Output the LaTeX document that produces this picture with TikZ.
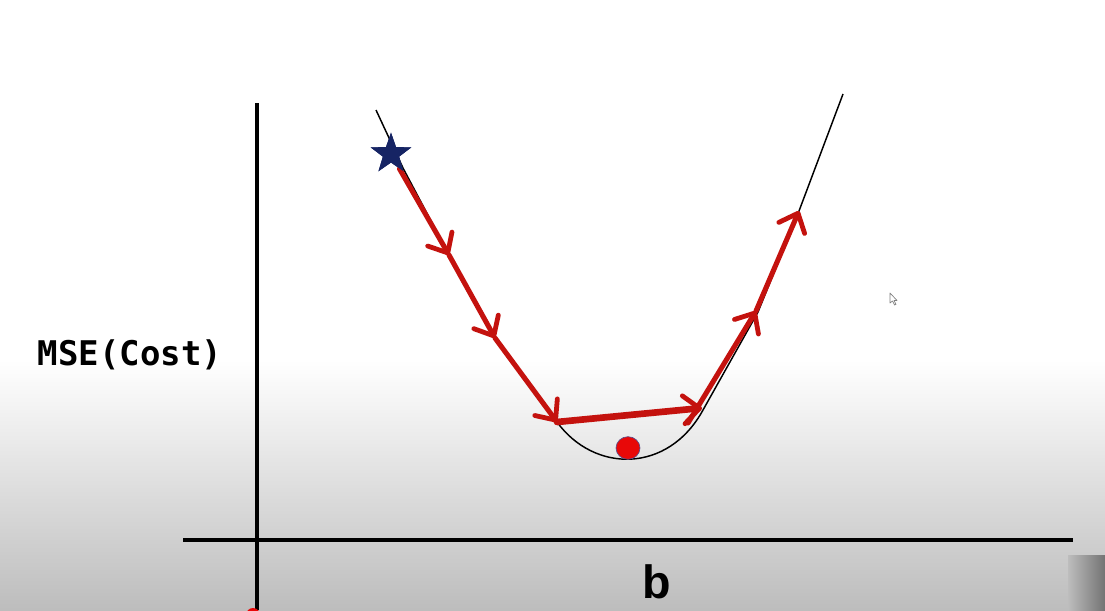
\documentclass[tikz,border=0pt]{standalone}
\usepackage{fontspec}
\setmainfont{Liberation Sans}
\newfontfamily\monobold{DejaVu Sans Mono}
\usetikzlibrary{arrows.meta,shapes.geometric}
\definecolor{gdred}{RGB}{196,18,14}
\definecolor{navystar}{RGB}{22,36,100}
\definecolor{dotred}{RGB}{232,8,8}
\definecolor{dotedge}{RGB}{90,80,140}
\tikzset{
  axisline/.style={line width=2.4pt, black},
  costcurve/.style={line width=1.1pt, black, line join=round},
  steparrow/.style={gdred, line width=3.8pt, line cap=round,
    -{Straight Barb[length=12pt, width=21pt, line width=3.6pt, round]}},
  bigsteparrow/.style={steparrow, line width=5pt},
  labeltext/.style={inner sep=0pt, anchor=base},
  gdstar/.style={star, star points=5, star point ratio=2.5, minimum size=32pt,
    inner sep=0pt, fill=navystar}
}
\begin{document}
\begin{tikzpicture}[x=0.75pt, y=-0.75pt]
\useasboundingbox (0,0) rectangle (1105,610);
\clip (0,0) rectangle (1105,610);
% background
\fill[white] (0,0) rectangle (1105,360);
\shade[top color=white, bottom color=white!93!black] (0,360) rectangle (1105,430);
\shade[top color=white!93!black, bottom color=white!74!black] (0,429.5) rectangle (1105,610);
\shade[left color=white!74!black, right color=black!55] (1068,555) rectangle (1105,610);
% axes
\coordinate (ytop) at (257,103);
\coordinate (ybot) at (257,610);
\coordinate (xl) at (183,540);
\coordinate (xr) at (1073,540);
\draw[axisline] (ytop) -- (ybot);
\draw[axisline] (xl) -- (xr);
\fill[dotred] (253,615) circle[radius=7];
% labels
\node[labeltext, font=\monobold\bfseries\fontsize{25.5}{27}\selectfont] (ylabel) at (130,365) {MSE(Cost)};
\node[labeltext, font=\bfseries\fontsize{35}{37}\selectfont] (xlabel) at (657,598) {b};
% step points
\coordinate (a1) at (449,255);
\coordinate (a2) at (495,338);
\coordinate (a3) at (557,422);
\coordinate (a4) at (702,408);
\coordinate (b5) at (688,423);
\coordinate (a5) at (756,311);
\coordinate (a6) at (799,211);
\coordinate (c0) at (376,110);
\coordinate (c1) at (403,168);
\coordinate (c4) at (703,410);
\coordinate (c5) at (758,312);
\coordinate (c6) at (843,94);
% cost curve
\draw[costcurve] (c0) -- (c1) -- (a1) -- (a2) -- (a3)
  .. controls (594,473) and (668,474) .. (c4) -- (c5) -- (a6) -- (c6);
% gradient steps
\node[gdstar] (s) at (391,154) {};
\draw[steparrow] (s) -- (a1);
\draw[steparrow] (a1) -- (a2);
\draw[steparrow] (a2) -- (a3);
\draw[bigsteparrow] (a3) -- (a4);
\draw[steparrow] (b5) -- (a5);
\draw[steparrow] (a5) -- (a6);
\node[gdstar] at (391,154) {};
% minimum
\node[ellipse, fill=dotred, draw=dotedge, line width=0.5pt, minimum width=18pt,
      minimum height=17pt, inner sep=0pt] (m) at (628,448) {};
% cursor
\draw[gray, line width=0.5pt, fill=white, line join=round]
  (890,293) -- (890,303) -- (892.5,301) -- (894.5,305) -- (896,304.3)
  -- (894,300.5) -- (897,300.5) -- cycle;
\end{tikzpicture}
\end{document}
